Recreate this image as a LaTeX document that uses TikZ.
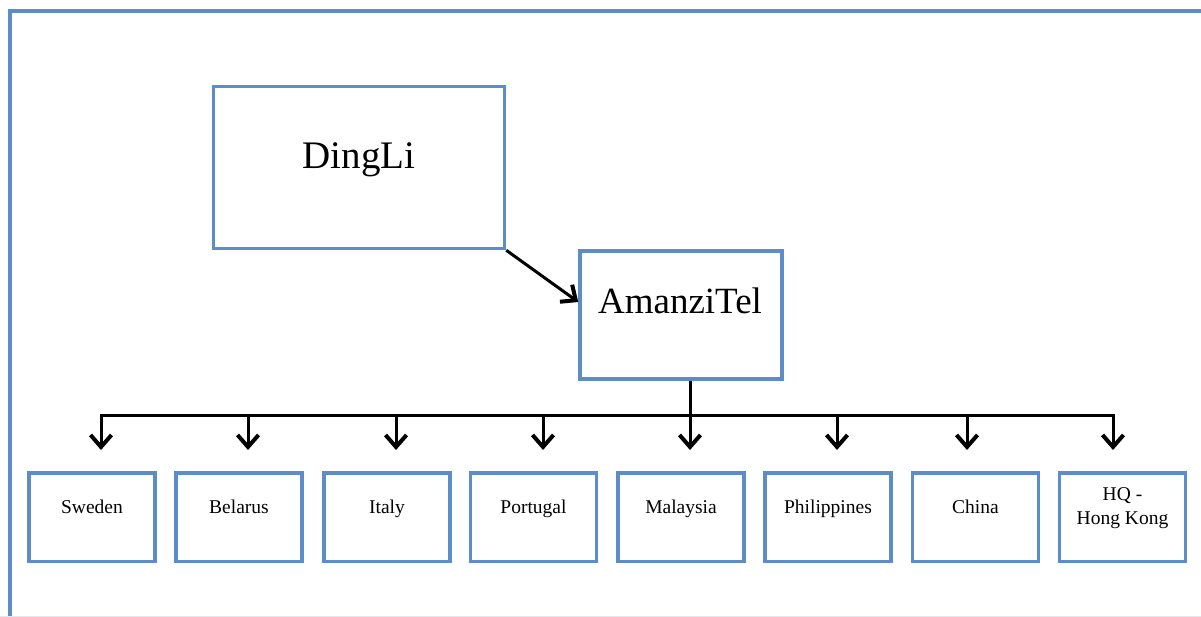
\documentclass[tikz,border=0pt]{standalone}
\usepackage{fontspec}
\setmainfont{Liberation Serif}
\usetikzlibrary{arrows.meta}
\definecolor{boxblue}{RGB}{92,141,198}
\definecolor{faintline}{RGB}{228,232,238}
\begin{document}
\begin{tikzpicture}[x=1pt,y=-1pt,
  box/.style={draw=boxblue,line width=3.5pt,inner sep=0pt,
    minimum width=126pt,minimum height=88.5pt,anchor=center},
  lbl/.style={font=\fontsize{19.5}{24}\selectfont,anchor=base,inner sep=0pt,align=center},
  biglbl/.style={font=\fontsize{38}{44}\selectfont,anchor=base,inner sep=0pt},
  conn/.style={line width=3pt,black},
  arr/.style={conn,-{Straight Barb[length=12pt,width=21pt,line width=4pt]}}]
\useasboundingbox (0,0) rectangle (1201,617);
\clip (0,0) rectangle (1201,617);

% outer frame (runs past the page on the right and at the bottom)
\draw[boxblue,line width=3.5pt] (10,700) -- (10,11) -- (1300,11);
\draw[faintline,line width=1pt] (0,616) -- (1201,616);

% parent companies
\node[box,minimum width=291pt,minimum height=162pt] (dingli) at (359,167.5) {};
\node[biglbl,font=\fontsize{39}{44}\selectfont] (dingli-t) at (359,169) {DingLi};
\node[box,minimum width=202pt,minimum height=128pt] (amanzi) at (681,315) {};
\node[biglbl,font=\fontsize{37}{44}\selectfont] (amanzi-t) at (680,313) {AmanziTel};

\draw[arr] (dingli.south east) -- ([yshift=13pt]amanzi.west);

% distribution bus
\coordinate (busL) at (101,415);
\coordinate (busR) at (1113,415);
\coordinate (busM) at (690,415);
\draw[conn] ([xshift=9pt]amanzi.south) -- (busM);
\draw[conn,line cap=rect] (busL) -- (busR);

% subsidiaries
\foreach \n/\cx/\dx/\t in {sweden/92/9/Sweden, belarus/239/9/Belarus,
    italy/387/9/Italy, portugal/533.5/9.5/Portugal, malaysia/681/9/Malaysia,
    philippines/828/9/Philippines, china/975.5/-8.5/China}{
  \node[box] (\n) at (\cx,517) {};
  \node[lbl] (\n-t) at (\cx,513) {\t};
  \coordinate (\n-a) at ([xshift=\dx pt,yshift=21pt]\n.north);
  \draw[arr] (\n-a |- busM) -- (\n-a);
}
\node[box] (hq) at (1122.5,517) {};
\node[lbl,anchor=center] (hq-t) at (1122.5,508) {HQ -\\Hong Kong};
\coordinate (hq-a) at ([xshift=-9.5pt,yshift=21pt]hq.north);
\draw[arr] (hq-a |- busM) -- (hq-a);
\end{tikzpicture}
\end{document}
